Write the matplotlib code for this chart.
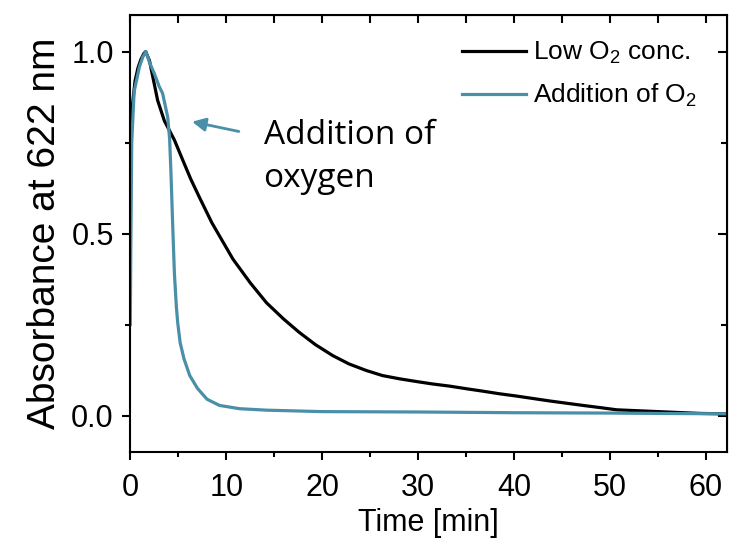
import matplotlib
matplotlib.use("Agg")
import matplotlib.pyplot as plt
import numpy as np
from matplotlib.ticker import MultipleLocator

plt.rcParams['font.family'] = ['Liberation Sans', 'DejaVu Sans']
plt.rcParams['mathtext.default'] = 'regular'

# Low O2 concentration (black)
t_low = [0.0, 0.1, 0.25, 0.5, 0.8, 1.1, 1.4, 1.6, 2.0, 2.85, 3.55, 4.6, 5.5, 6.3, 7.2, 8.5, 10.7, 12.5,
         14.2, 16.0, 17.6, 19.3, 21.1, 22.8, 24.6, 26.3, 28.1, 30.0, 31.5, 33.3, 35.0, 36.8, 38.5, 40.2,
         42.0, 43.8, 45.5, 47.2, 49.0, 50.7, 52.4, 54.2, 55.9, 57.6, 59.5, 62.0]
v_low = [0.62, 0.78, 0.86, 0.92, 0.955, 0.978, 0.994, 1.0, 0.975, 0.866, 0.81, 0.757, 0.70, 0.65, 0.60,
         0.53, 0.43, 0.365, 0.31, 0.265, 0.229, 0.195, 0.165, 0.142, 0.124, 0.11, 0.101, 0.093, 0.087,
         0.081, 0.074, 0.067, 0.060, 0.054, 0.047, 0.040, 0.034, 0.028, 0.022, 0.016, 0.014, 0.012,
         0.010, 0.008, 0.006, 0.005]

# Addition of O2 (blue)
t_add = [0.0, 0.05, 0.15, 0.4, 0.94, 1.3, 1.63, 2.0, 2.5, 3.0, 3.37, 3.9, 4.1, 4.24, 4.45, 4.6, 4.8,
         4.94, 5.2, 5.6, 6.2, 7.0, 8.0, 9.3, 10.7, 11.4, 14.2, 20.0, 30.0, 40.0, 50.0, 55.0, 62.0]
v_add = [0.25, 0.45, 0.75, 0.89, 0.957, 0.985, 1.0, 0.97, 0.94, 0.905, 0.885, 0.82, 0.76, 0.666, 0.50,
         0.39, 0.30, 0.256, 0.20, 0.156, 0.11, 0.075, 0.045, 0.028, 0.022, 0.019, 0.015, 0.011, 0.010,
         0.008, 0.007, 0.006, 0.005]

black = '#000000'
blue = '#4a8fa8'

fig = plt.figure(figsize=(7.32, 5.42), dpi=100)
ax = fig.add_axes([0.178, 0.166, 0.815, 0.806])

ax.plot(t_low, v_low, color=black, lw=2.3, label='Low O$_2$ conc.')
ax.plot(t_add, v_add, color=blue, lw=2.3, label='Addition of O$_2$')

ax.set_xlim(0, 62.2)
ax.set_ylim(-0.1, 1.1)
ax.xaxis.set_major_locator(MultipleLocator(10))
ax.xaxis.set_minor_locator(MultipleLocator(5))
ax.yaxis.set_major_locator(MultipleLocator(0.5))
ax.yaxis.set_minor_locator(MultipleLocator(0.25))
ax.yaxis.set_major_formatter(matplotlib.ticker.FormatStrFormatter('%.1f'))

ax.tick_params(which='major', direction='out', length=6, width=1.5, labelsize=22, pad=6)
ax.tick_params(axis='x', which='major', pad=9)
ax.tick_params(which='minor', direction='out', length=3.5, width=1.5)
for s in ax.spines.values():
    s.set_linewidth(1.5)

top = ax.secondary_xaxis('top')
top.xaxis.set_major_locator(MultipleLocator(10))
top.xaxis.set_minor_locator(MultipleLocator(5))
top.tick_params(which='both', direction='in', length=6, width=1.5, labeltop=False)
right = ax.secondary_yaxis('right')
right.yaxis.set_major_locator(MultipleLocator(0.5))
right.yaxis.set_minor_locator(MultipleLocator(0.25))
right.tick_params(which='major', direction='in', length=6.5, width=1.5, labelright=False)
right.tick_params(which='minor', direction='in', length=4, width=1.5)

ax.set_xlabel('Time [min]', fontsize=22, labelpad=4)
ax.set_ylabel('Absorbance at 622 nm', fontsize=28, labelpad=6)

leg = ax.legend(loc='upper right', frameon=False, fontsize=19, handlelength=2.4,
                handletextpad=0.28, labelspacing=0.6, borderaxespad=0.5,
                bbox_to_anchor=(0.99, 0.998))

ax.annotate('', xy=(6.16, 0.809), xytext=(11.6, 0.779),
            arrowprops=dict(arrowstyle='-|>', color=blue, lw=2, mutation_scale=20))
ax.text(13.9, 0.815, 'Addition of\noxygen', fontsize=24, family=['Open Sans', 'DejaVu Sans'],
        va='top', ha='left', linespacing=1.4)

fig.savefig('out.png', dpi=100)
